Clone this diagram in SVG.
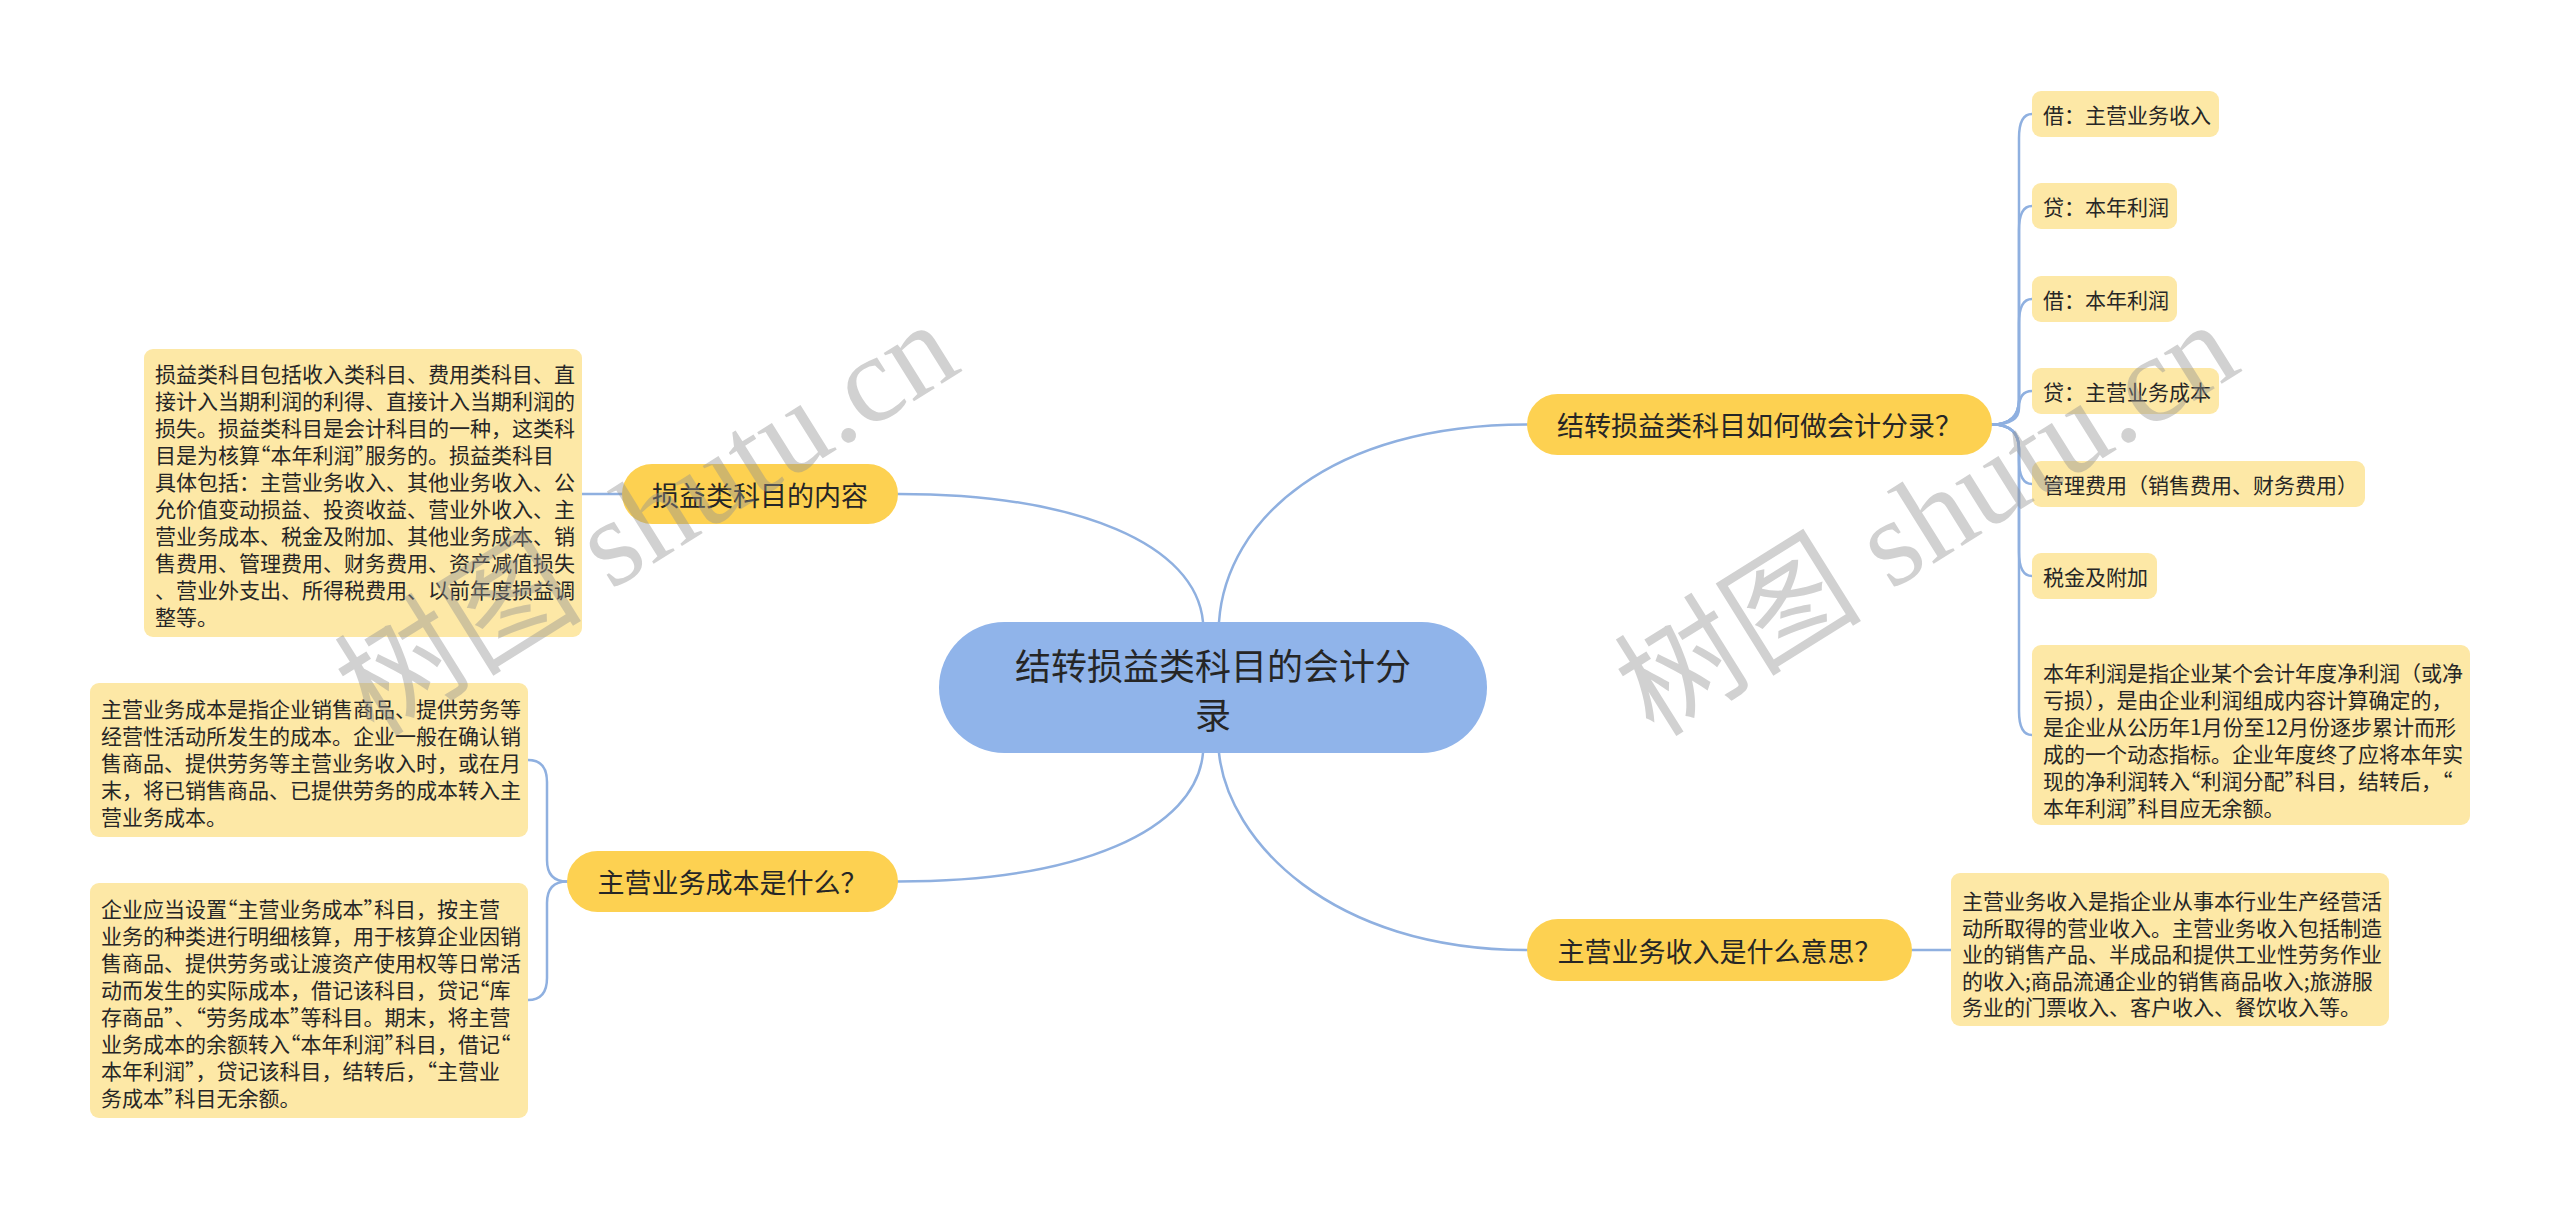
<svg xmlns="http://www.w3.org/2000/svg" width="2560" height="1209" viewBox="0 0 2560 1209">
<style>
.bg{fill:#ffffff}
.leaf{fill:#fde8a6}
.l1{fill:#fdd151}
.root{fill:#90b4ea}
.t{font-family:"Noto Sans CJK SC","Liberation Sans",sans-serif;fill:#262626;dominant-baseline:central}
.lt{font-size:21px}
.l1t{font-size:27px;text-anchor:middle}
.ct{font-size:36px;text-anchor:middle}
.q{font-feature-settings:"halt" 1}
#connectors path{fill:none;stroke:#8fb0e0;stroke-width:2.5;stroke-linecap:round}
.wm{font-family:"Liberation Serif","Noto Sans CJK SC",serif;font-size:124px;fill:#929292;opacity:.42;text-anchor:middle;dominant-baseline:central}
</style>
<rect class="bg" x="0" y="0" width="2560" height="1209"/>
<g id="connectors">
<path d="M1203,622 C1196,545 1080,494 898,494"/>
<path d="M1219,622 C1226,520 1330,424.5 1527,424.5"/>
<path d="M1203,753 C1196,830 1080,881.5 898,881.5"/>
<path d="M1219,753 C1228,840 1330,950 1527,950"/>
<path d="M582,494 L622,494"/>
<path d="M1912,950 L1951,950"/>
<path d="M567,881.5 Q547,881.5 547,860 L547,782 Q547,760 528,760"/>
<path d="M567,881.5 Q547,881.5 547,903 L547,978 Q547,1000 528,1000"/>
<path d="M1992,424.5 Q2019,424.5 2019,400 L2019,138 Q2019,114 2032,114"/>
<path d="M1992,424.5 Q2019,424.5 2019,400 L2019,230 Q2019,206 2032,206"/>
<path d="M1992,424.5 Q2019,424.5 2019,400 L2019,323 Q2019,299 2032,299"/>
<path d="M1992,424.5 Q2019,424.5 2019,408 Q2019,391 2032,391"/>
<path d="M1992,424.5 Q2019,424.5 2019,449 L2019,460 Q2019,484 2032,484"/>
<path d="M1992,424.5 Q2019,424.5 2019,449 L2019,552 Q2019,576 2032,576"/>
<path d="M1992,424.5 Q2019,424.5 2019,449 L2019,711 Q2019,735 2032,735"/>
</g>
<g id="root">
<rect class="root" x="939" y="622" width="548" height="131" rx="65.5"/>
<text class="t ct" x="1213" y="664">结转损益类科目的会计分</text>
<text class="t ct" x="1213" y="713">录</text>
</g>
<g id="n-sunyi">
<rect class="l1" x="622" y="464" width="276" height="60" rx="30"/>
<text class="t l1t" x="760" y="494">损益类科目的内容</text>
</g>
<g id="n-chengben">
<rect class="l1" x="567" y="851" width="331" height="61" rx="30.5"/>
<text class="t l1t" x="732.5" y="881.5">主营业务成本是什么？</text>
</g>
<g id="n-fenlu">
<rect class="l1" x="1527" y="394" width="465" height="61" rx="30.5"/>
<text class="t l1t" x="1759.5" y="424.5">结转损益类科目如何做会计分录？</text>
</g>
<g id="n-shouru">
<rect class="l1" x="1527" y="919" width="385" height="62" rx="31"/>
<text class="t l1t" x="1719.5" y="950">主营业务收入是什么意思？</text>
</g>
<g id="leaf-sunyi">
<rect class="leaf" x="144" y="349" width="438" height="288" rx="9"/>
<text class="t lt" x="155" y="373">损益类科目包括收入类科目、费用类科目、直</text>
<text class="t lt" x="155" y="400">接计入当期利润的利得、直接计入当期利润的</text>
<text class="t lt" x="155" y="427">损失。损益类科目是会计科目的一种，这类科</text>
<text class="t lt" x="155" y="454">目是为核算<tspan class="q">“</tspan>本年利润<tspan class="q">”</tspan>服务的。损益类科目</text>
<text class="t lt" x="155" y="481">具体包括：主营业务收入、其他业务收入、公</text>
<text class="t lt" x="155" y="508">允价值变动损益、投资收益、营业外收入、主</text>
<text class="t lt" x="155" y="535">营业务成本、税金及附加、其他业务成本、销</text>
<text class="t lt" x="155" y="562">售费用、管理费用、财务费用、资产减值损失</text>
<text class="t lt" x="155" y="589">、营业外支出、所得税费用、以前年度损益调</text>
<text class="t lt" x="155" y="616">整等。</text>
</g>
<g id="leaf-chengben-1">
<rect class="leaf" x="90" y="683" width="438" height="154" rx="9"/>
<text class="t lt" x="101" y="708">主营业务成本是指企业销售商品、提供劳务等</text>
<text class="t lt" x="101" y="735">经营性活动所发生的成本。企业一般在确认销</text>
<text class="t lt" x="101" y="762">售商品、提供劳务等主营业务收入时，或在月</text>
<text class="t lt" x="101" y="789">末，将已销售商品、已提供劳务的成本转入主</text>
<text class="t lt" x="101" y="816">营业务成本。</text>
</g>
<g id="leaf-chengben-2">
<rect class="leaf" x="90" y="883" width="438" height="235" rx="9"/>
<text class="t lt" x="101" y="908">企业应当设置<tspan class="q">“</tspan>主营业务成本<tspan class="q">”</tspan>科目，按主营</text>
<text class="t lt" x="101" y="935">业务的种类进行明细核算，用于核算企业因销</text>
<text class="t lt" x="101" y="962">售商品、提供劳务或让渡资产使用权等日常活</text>
<text class="t lt" x="101" y="989">动而发生的实际成本，借记该科目，贷记<tspan class="q">“</tspan>库</text>
<text class="t lt" x="101" y="1016">存商品<tspan class="q">”</tspan>、<tspan class="q">“</tspan>劳务成本<tspan class="q">”</tspan>等科目。期末，将主营</text>
<text class="t lt" x="101" y="1043">业务成本的余额转入<tspan class="q">“</tspan>本年利润<tspan class="q">”</tspan>科目，借记<tspan class="q">“</tspan></text>
<text class="t lt" x="101" y="1070">本年利润<tspan class="q">”</tspan>，贷记该科目，结转后，<tspan class="q">“</tspan>主营业</text>
<text class="t lt" x="101" y="1097">务成本<tspan class="q">”</tspan>科目无余额。</text>
</g>
<g id="leaf-fenlu-1">
<rect class="leaf" x="2032" y="91" width="187" height="46" rx="9"/>
<text class="t lt" x="2043" y="114">借：主营业务收入</text>
</g>
<g id="leaf-fenlu-2">
<rect class="leaf" x="2032" y="183" width="145" height="46" rx="9"/>
<text class="t lt" x="2043" y="206">贷：本年利润</text>
</g>
<g id="leaf-fenlu-3">
<rect class="leaf" x="2032" y="276" width="145" height="46" rx="9"/>
<text class="t lt" x="2043" y="299">借：本年利润</text>
</g>
<g id="leaf-fenlu-4">
<rect class="leaf" x="2032" y="368" width="187" height="46" rx="9"/>
<text class="t lt" x="2043" y="391">贷：主营业务成本</text>
</g>
<g id="leaf-fenlu-5">
<rect class="leaf" x="2032" y="461" width="333" height="46" rx="9"/>
<text class="t lt" x="2043" y="484">管理费用（销售费用、财务费用）</text>
</g>
<g id="leaf-fenlu-6">
<rect class="leaf" x="2032" y="553" width="125" height="46" rx="9"/>
<text class="t lt" x="2043" y="576">税金及附加</text>
</g>
<g id="leaf-fenlu-7">
<rect class="leaf" x="2032" y="645" width="438" height="180" rx="9"/>
<text class="t lt" x="2043" y="672">本年利润是指企业某个会计年度净利润（或净</text>
<text class="t lt" x="2043" y="699">亏损），是由企业利润组成内容计算确定的，</text>
<text class="t lt" x="2043" y="726">是企业从公历年1月份至12月份逐步累计而形</text>
<text class="t lt" x="2043" y="753">成的一个动态指标。企业年度终了应将本年实</text>
<text class="t lt" x="2043" y="780">现的净利润转入<tspan class="q">“</tspan>利润分配<tspan class="q">”</tspan>科目，结转后，<tspan class="q">“</tspan></text>
<text class="t lt" x="2043" y="807">本年利润<tspan class="q">”</tspan>科目应无余额。</text>
</g>
<g id="leaf-shouru">
<rect class="leaf" x="1951" y="873" width="438" height="153" rx="9"/>
<text class="t lt" x="1962" y="900">主营业务收入是指企业从事本行业生产经营活</text>
<text class="t lt" x="1962" y="927">动所取得的营业收入。主营业务收入包括制造</text>
<text class="t lt" x="1962" y="953">业的销售产品、半成品和提供工业性劳务作业</text>
<text class="t lt" x="1962" y="980">的收入;商品流通企业的销售商品收入;旅游服</text>
<text class="t lt" x="1962" y="1006">务业的门票收入、客户收入、餐饮收入等。</text>
</g>
<g id="watermarks">
<text class="wm" transform="translate(647,519) rotate(-32)">树图 shutu.cn</text>
<text class="wm" transform="translate(1927,519) rotate(-32)">树图 shutu.cn</text>
</g>
</svg>
